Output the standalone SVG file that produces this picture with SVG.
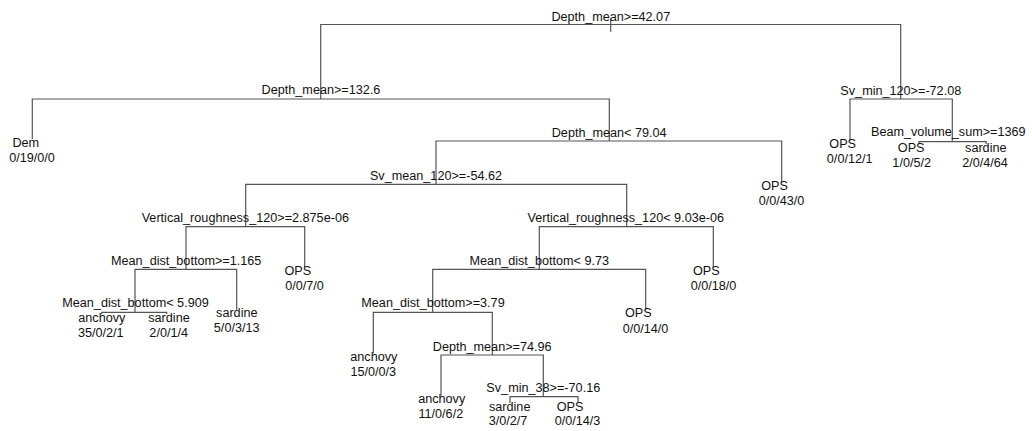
<svg xmlns="http://www.w3.org/2000/svg" width="1032" height="431" viewBox="0 0 1032 431">
<style>
.e{stroke:#555;stroke-width:1.2;fill:none}
text{font-family:"Liberation Sans",Arial,sans-serif;font-size:12.65px;fill:#111;text-anchor:middle}
</style>
<rect width="1032" height="431" fill="#fff"/>
<g id="connectors">
<path class="e" d="M610.7 19V31.7"/>
<path class="e" d="M320.7 99V24.5H900.7V99"/>
<path class="e" d="M32.3 139.3V99H609.3V141"/>
<path class="e" d="M850 140.5V99H952.3V141.7"/>
<path class="e" d="M919 144V141.7H986V144"/>
<path class="e" d="M436 184.3V141H781.7V182.5"/>
<path class="e" d="M245.7 226.7V184.3H626.7V226.7"/>
<path class="e" d="M186 269.3V226.7H304.7V267.3"/>
<path class="e" d="M135 312.3V269.3H236.7V309.8"/>
<path class="e" d="M101.7 314V312.3H166.7V314"/>
<path class="e" d="M539.3 269.3V226.7H713.3V267.3"/>
<path class="e" d="M432.7 312.3V269.3H645.7V310"/>
<path class="e" d="M373.3 353.3V312.3H492.3V355"/>
<path class="e" d="M441 395.5V355H543.3V396.7"/>
<path class="e" d="M510 403V396.7H578V403"/>
</g>
<g id="n1"><text x="610.8" y="20.7">Depth_mean&gt;=42.07</text></g>
<g id="n2"><text x="321" y="94.3">Depth_mean&gt;=132.6</text></g>
<g id="n3"><text x="900.8" y="94.5">Sv_min_120&gt;=-72.08</text></g>
<g id="n4"><text x="609.2" y="136.7">Depth_mean&lt; 79.04</text></g>
<g id="n5"><text x="948.3" y="136.3">Beam_volume_sum&gt;=1369</text></g>
<g id="n6"><text x="436" y="179.5">Sv_mean_120&gt;=-54.62</text></g>
<g id="n7"><text x="245.3" y="222.3">Vertical_roughness_120&gt;=2.875e-06</text></g>
<g id="n8"><text x="625.8" y="222.3">Vertical_roughness_120&lt; 9.03e-06</text></g>
<g id="n9"><text x="186.2" y="264.5">Mean_dist_bottom&gt;=1.165</text></g>
<g id="n10"><text x="539.3" y="265">Mean_dist_bottom&lt; 9.73</text></g>
<g id="n11"><text x="433" y="307">Mean_dist_bottom&gt;=3.79</text></g>
<g id="n12"><text x="135.5" y="307">Mean_dist_bottom&lt; 5.909</text></g>
<g id="n13"><text x="492.2" y="350.7">Depth_mean&gt;=74.96</text></g>
<g id="n14"><text x="543.3" y="391.7">Sv_min_38&gt;=-70.16</text></g>
<g id="l1"><text x="25.8" y="146.7">Dem</text><text x="32" y="161.7">0/19/0/0</text></g>
<g id="l2"><text x="842.7" y="148.3">OPS</text><text x="849.7" y="163.3">0/0/12/1</text></g>
<g id="l3"><text x="911.2" y="151.7">OPS</text><text x="911.7" y="166.7">1/0/5/2</text></g>
<g id="l4"><text x="985.8" y="151.7">sardine</text><text x="985" y="166.7">2/0/4/64</text></g>
<g id="l5"><text x="774.5" y="190">OPS</text><text x="781.5" y="205">0/0/43/0</text></g>
<g id="l6"><text x="297.8" y="275">OPS</text><text x="304.5" y="290">0/0/7/0</text></g>
<g id="l7"><text x="706.3" y="275">OPS</text><text x="713.5" y="290">0/0/18/0</text></g>
<g id="l8"><text x="101.8" y="321.7">anchovy</text><text x="100.8" y="336.7">35/0/2/1</text></g>
<g id="l9"><text x="169" y="321.7">sardine</text><text x="168.7" y="336.7">2/0/1/4</text></g>
<g id="l10"><text x="236.8" y="317.3">sardine</text><text x="236.7" y="332.3">5/0/3/13</text></g>
<g id="l11"><text x="638.3" y="317.3">OPS</text><text x="645.5" y="332.5">0/0/14/0</text></g>
<g id="l12"><text x="373.8" y="360.7">anchovy</text><text x="373.3" y="375.5">15/0/0/3</text></g>
<g id="l13"><text x="441.7" y="403.3">anchovy</text><text x="440.8" y="418.3">11/0/6/2</text></g>
<g id="l14"><text x="509.7" y="410.7">sardine</text><text x="508" y="424.5">3/0/2/7</text></g>
<g id="l15"><text x="570" y="410.7">OPS</text><text x="577.5" y="424.5">0/0/14/3</text></g>
</svg>
